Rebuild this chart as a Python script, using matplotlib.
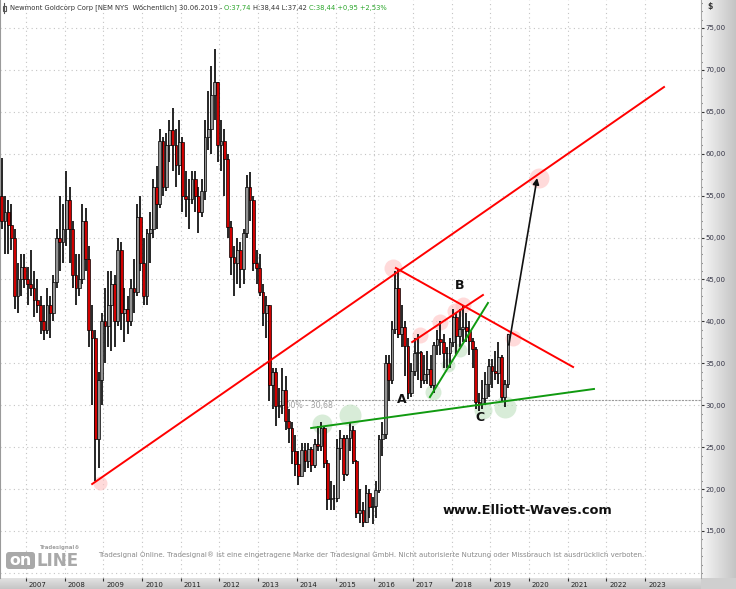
import matplotlib
matplotlib.use("Agg")
import matplotlib.pyplot as plt
import numpy as np
from matplotlib.colors import LinearSegmentedColormap
from matplotlib.patches import FancyBboxPatch
from matplotlib.ticker import MultipleLocator
from matplotlib.transforms import ScaledTranslation

W, H, DPI = 736, 589, 100

# monthly bars, first bar = May 2006
START_YEAR, START_MONTH = 2006, 5
FIRST_OPEN = 55.0
HIGHS = [
    59.5, 55.0, 54.5, 54.0, 51.0, 47.0, 48.0, 48.0,
    46.5, 48.5, 46.0, 45.0, 43.0, 42.0, 44.0, 43.0, 45.5, 51.0, 55.0, 54.0,
    58.0, 56.0, 52.0, 48.0, 48.0, 54.0, 53.5, 49.0, 42.0, 39.0, 34.0, 41.0,
    44.0, 46.0, 46.0, 45.5, 50.0, 49.5, 44.0, 43.0, 45.0, 47.5, 54.0, 55.0,
    50.0, 51.0, 53.0, 57.0, 58.5, 63.0, 62.0, 62.5, 64.0, 65.5, 63.0, 64.0,
    62.0, 58.0, 57.0, 58.0, 58.0, 56.0, 57.0, 64.0, 67.5, 70.5, 72.5, 68.5,
    64.0, 63.0, 60.0, 52.0, 49.0, 50.0, 49.5, 51.0, 57.5, 57.8, 55.0, 48.5,
    48.0, 44.5, 43.0, 42.0, 34.5, 34.5, 32.0, 34.5, 33.5, 29.5, 28.0, 26.5,
    24.5, 25.5, 25.5, 25.5, 25.0, 26.0, 27.5, 28.0, 27.5, 23.5, 21.0, 20.5,
    26.0, 27.0, 26.5, 26.5, 28.0, 27.5, 23.5, 20.0, 18.5, 20.5, 20.0, 19.0,
    21.0, 26.5, 28.0, 36.0, 36.0, 40.0, 46.0, 46.2, 42.0, 40.0, 38.0, 35.0,
    38.0, 38.5, 36.5, 36.0, 36.5, 36.0, 37.5, 39.0, 40.0, 38.5, 37.0, 38.0,
    41.5, 41.0, 41.5, 42.0, 41.0, 40.0, 38.0, 37.0, 31.5, 33.0, 34.0, 35.5,
    35.5, 36.5, 37.5, 36.0, 33.0, 38.5,
]
LOWS = [
    51.0, 48.0, 48.0, 48.5, 41.5, 41.0, 43.0, 44.0,
    42.0, 43.0, 40.5, 41.0, 38.5, 37.8, 38.5, 38.0, 40.0, 44.0, 46.0, 47.0,
    49.0, 47.0, 44.0, 42.0, 43.0, 44.5, 46.0, 37.0, 30.0, 21.0, 22.5, 30.0,
    35.0, 37.0, 36.5, 37.0, 39.5, 39.0, 37.5, 38.5, 39.5, 41.0, 43.0, 46.0,
    42.0, 42.0, 47.0, 50.0, 51.0, 53.5, 55.0, 55.5, 59.0, 58.0, 56.0, 57.5,
    53.0, 52.5, 51.0, 54.0, 53.0, 50.5, 52.5, 54.5, 60.5, 60.0, 64.0, 59.0,
    58.0, 55.0, 50.0, 45.5, 43.0, 44.5, 44.0, 44.5, 50.0, 52.0, 46.0, 44.5,
    43.0, 39.5, 38.0, 30.5, 29.5, 27.5, 28.5, 29.0, 27.0, 25.5, 23.0, 21.5,
    20.5, 21.5, 22.0, 22.5, 22.0, 22.5, 24.5, 24.5, 22.5, 17.5, 17.5, 17.5,
    18.5, 23.5, 21.0, 21.5, 24.5, 23.0, 16.5, 16.0, 15.5, 16.0, 16.5, 15.8,
    16.5, 19.5, 24.0, 26.0, 30.5, 32.5, 38.5, 38.0, 37.0, 33.5, 30.8, 31.0,
    33.5, 33.0, 32.0, 32.5, 32.5, 32.0, 31.5, 36.0, 36.0, 34.5, 34.5, 34.5,
    37.0, 36.0, 37.0, 37.5, 37.5, 36.0, 34.5, 29.5, 29.3, 29.5, 30.0, 31.0,
    32.0, 33.0, 32.5, 30.5, 29.8, 32.0,
]
CLOSES = [
    52.0, 53.0, 51.5, 50.0, 43.0, 45.0, 46.5, 45.0,
    44.5, 44.0, 42.5, 42.0, 40.0, 39.0, 42.0, 41.0, 44.7, 50.0, 49.5, 51.0,
    54.5, 51.0, 45.5, 44.0, 45.0, 52.0, 47.5, 39.0, 38.0, 26.0, 33.0, 40.0,
    39.5, 42.0, 44.5, 40.0, 48.5, 41.0, 41.5, 40.0, 44.0, 43.5, 52.5, 47.0,
    43.0, 50.5, 51.0, 56.0, 54.0, 61.5, 56.0, 61.0, 62.8, 61.0, 58.6, 61.4,
    55.0, 54.6, 54.6, 57.0, 55.0, 53.0, 55.6, 62.0, 63.0, 67.0, 68.5, 61.0,
    61.5, 59.4, 51.3, 47.7, 47.0, 48.5, 46.3, 50.6, 56.0, 54.5, 47.0, 46.4,
    43.5, 41.0, 41.9, 32.4, 34.0, 29.9, 30.0, 31.8, 28.1, 27.3, 24.5, 23.0,
    21.6, 24.7, 23.4, 24.8, 22.9, 25.4, 25.1, 27.3, 23.1, 18.8, 18.9, 18.9,
    24.9, 26.1, 21.8, 26.1, 27.1, 23.4, 17.2, 17.5, 16.1, 19.5, 17.9, 18.0,
    19.9, 26.0, 26.6, 35.0, 33.0, 39.1, 44.0, 38.5, 39.3, 37.1, 31.4, 34.1,
    36.2, 36.3, 33.0, 33.7, 34.3, 32.4, 37.2, 37.9, 37.5, 36.2, 36.2, 37.5,
    40.5, 38.3, 39.1, 39.3, 38.8, 37.7, 36.7, 30.4, 30.2, 30.9, 32.5, 34.7,
    34.1, 33.9, 35.8, 31.0, 32.5, 38.44,
]

YEARS = list(range(2007, 2024))
PRICE_TICKS = list(range(15, 80, 5))

# drawn analysis, (decimal year, price)
RED_LINES = [((2008.71, 20.60), (2023.49, 67.96)),
             ((2016.56, 46.37), (2021.14, 34.56)),
             ((2016.98, 37.54), (2018.81, 43.15))]
GREEN_LINES = [((2014.37, 27.28), (2021.68, 31.94)),
               ((2017.44, 30.98), (2018.94, 42.20))]
ARROW = ((2019.48, 37.19), (2020.21, 57.10))
PINK_SPOTS = [(2008.91, 20.72), (2016.49, 46.37), (2017.18, 38.38), (2017.70, 39.93),
              (2018.09, 41.24), (2018.30, 41.96), (2019.59, 38.02), (2020.26, 57.11)]
PINK_RADII = [7, 9, 8, 8, 8, 8, 8, 10]
GREEN_SPOTS = [(2014.65, 27.76), (2015.37, 28.84), (2017.52, 31.58), (2017.91, 34.80),
               (2018.22, 36.59), (2018.81, 29.43), (2019.38, 29.79)]
GREEN_RADII = [10, 11, 8, 7, 7, 9, 11]
WAVE_LABELS = [("A", 2016.72, 30.74), ("B", 2018.22, 44.34), ("C", 2018.73, 28.48)]
RETRACE_LEVEL = 30.68
RETRACE_START = 2013.77

HEADER_PARTS = [
    ("Newmont Goldcorp Corp [NEM NYS  W\u00f6chentlich] 30.06.2019 - ", "#333333"),
    ("O:37,74 ", "#2aa52a"),
    ("H:38,44 L:37,42 ", "#333333"),
    ("C:38,44 +0,95 +2,53%", "#2aa52a"),
]
WATERMARK = ("Tradesignal Online. Tradesignal\u00ae ist eine eingetragene Marke der Tradesignal GmbH. "
             "Nicht autorisierte Nutzung oder Missbrauch ist ausdr\u00fccklich verboten.")


def px_box(x0, y0, x1, y1):
    return [x0 / W, 1 - y1 / H, (x1 - x0) / W, (y1 - y0) / H]


fig = plt.figure(figsize=(W / DPI, H / DPI), dpi=DPI)
fig.patch.set_facecolor("#cfcfcf")
renderer = fig.canvas.get_renderer()


def fit(txt, width_px):
    w = txt.get_window_extent(renderer).width
    txt.set_fontsize(txt.get_fontsize() * width_px / w)
    return txt.get_fontsize()


# background strips
bg = fig.add_axes([0, 0, 1, 1], zorder=0)
right_cmap = LinearSegmentedColormap.from_list("r", ["#f7f7f7", "#c4c4c4"])
bottom_cmap = LinearSegmentedColormap.from_list("b", ["#e2e2e2", "#c6c6c6"])
bg.imshow(np.linspace(0, 1, 64)[None, :], extent=(701, W, 578, 0), cmap=right_cmap, aspect="auto")
bg.imshow(np.linspace(0, 1, 16)[:, None], extent=(0, 701, H, 578), cmap=bottom_cmap, aspect="auto")
bg.set_xlim(0, W)
bg.set_ylim(H, 0)
bg.axis("off")

# main chart
ax = fig.add_axes(px_box(0, 0, 701, 578), zorder=1)
ax.set_facecolor("white")
ax.set_xlim(2006.328, 2024.446)
ax.set_ylim(9.39, 78.34)

n = len(CLOSES)
t = np.array([START_YEAR + (START_MONTH - 1 + i + 0.5) / 12 for i in range(n)])
opens = np.array([FIRST_OPEN] + CLOSES[:-1])
closes = np.array(CLOSES)
up = closes >= opens
body_colors = np.where(up, "#939393", "#d00000")

ax.vlines(t, LOWS, HIGHS, color="#151515", lw=1.3, zorder=3)
ax.bar(t, np.abs(closes - opens), bottom=np.minimum(opens, closes), width=0.072,
       color=body_colors, edgecolor="black", lw=0.5, zorder=3.5)

# grid
dots = (0, (1, 3))
for y in YEARS:
    ax.axvline(y, color="#c4c4c4", lw=0.8, ls=dots, zorder=0.5)
for p in [10] + PRICE_TICKS:
    ax.axhline(p, color="#c4c4c4", lw=0.8, ls=dots, zorder=0.5)

# retracement level
ax.hlines(RETRACE_LEVEL, RETRACE_START, 2024.446, color="#9a9a9a", lw=0.8, ls=(0, (2, 1)), zorder=1)
rt = ax.text(2013.51, 30.0, "0,00% - 30,68", color="#a0a0a0", va="center", ha="left",
             fontsize=6, zorder=1.2)
fit(rt, 55)

# highlight spots
for (x, y), r in zip(PINK_SPOTS, PINK_RADII):
    ax.scatter(x, y, s=(2 * r * 0.72) ** 2, color="#ffc2c2", alpha=0.6, lw=0, zorder=2)
for (x, y), r in zip(GREEN_SPOTS, GREEN_RADII):
    ax.scatter(x, y, s=(2 * r * 0.72) ** 2, color="#bfe0bf", alpha=0.6, lw=0, zorder=2)

for (x0, y0), (x1, y1) in RED_LINES:
    ax.plot([x0, x1], [y0, y1], color="#ff0000", lw=1.4, zorder=5)
for (x0, y0), (x1, y1) in GREEN_LINES:
    ax.plot([x0, x1], [y0, y1], color="#109a10", lw=1.4, zorder=5)
ax.annotate("", xy=ARROW[1], xytext=ARROW[0],
            arrowprops=dict(arrowstyle="-|>", color="#111111", lw=1.2, mutation_scale=9,
                            shrinkA=0, shrinkB=0), zorder=6)
for s, x, y in WAVE_LABELS:
    ax.text(x, y, s, fontsize=9, fontweight="bold", color="#111111", ha="center", va="center", zorder=6)

# axes decoration
for side in ["top", "bottom"]:
    ax.spines[side].set_visible(False)
ax.spines["left"].set_color("#9a9a9a")
ax.spines["right"].set_color("#a8a8a8")

ax.yaxis.tick_right()
ax.set_yticks(PRICE_TICKS)
ax.set_yticklabels([f"{p},00" for p in PRICE_TICKS])
ax.yaxis.set_minor_locator(MultipleLocator(1))
ax.tick_params(axis="y", which="major", direction="out", length=2.2, width=0.8,
               color="#333333", labelsize=5, labelcolor="#333344", pad=1)
ax.tick_params(axis="y", which="minor", direction="out", length=1.0, width=0.8, color="#333333")

ax.set_xticks(YEARS)
ax.set_xticklabels([str(y) for y in YEARS])
ax.tick_params(axis="x", direction="out", length=2.2, width=0.8, color="#333333",
               labelsize=5, labelcolor="#222222", pad=0.6)
shift = ScaledTranslation(3 / DPI, 0, fig.dpi_scale_trans)
for lab in ax.get_xticklabels():
    lab.set_horizontalalignment("left")
    lab.set_transform(lab.get_transform() + shift)

# overlay texts in pixel coordinates
ov = fig.add_axes([0, 0, 1, 1], zorder=5)
ov.set_xlim(0, W)
ov.set_ylim(H, 0)
ov.axis("off")
ov.patch.set_alpha(0)

ov.plot([4, 4], [3, 13], color="#555555", lw=0.8)
ov.add_patch(FancyBboxPatch((2.5, 5.5), 3, 5, boxstyle="square,pad=0", fc="white", ec="#555555", lw=0.8))

# header: one run of coloured pieces, scaled to span x 10..387
full = ov.text(10, 8, "".join(s for s, _ in HEADER_PARTS), fontsize=6, va="center", ha="left")
hs = fit(full, 377)
full.remove()
x = 10.0
for s, c in HEADER_PARTS:
    piece = ov.text(x, 8, s, color=c, va="center", ha="left", fontsize=hs)
    x += piece.get_window_extent(renderer).width

ov.text(707, 7, "$", color="#333333", va="center", ha="left", fontsize=5.5, fontweight="bold")

wm = ov.text(98, 555, WATERMARK, color="#8a8a8a", va="center", ha="left", fontsize=6)
fit(wm, 550)
ew = ov.text(443, 511, "www.Elliott-Waves.com", color="#111111", va="center", ha="left",
             fontsize=10, fontweight="bold")
fit(ew, 170)

# Tradesignal online logo
ov.add_patch(FancyBboxPatch((6, 552), 29, 17, boxstyle="round,pad=0,rounding_size=3",
                            fc="#a9a9a9", ec="none"))
on = ov.text(20.5, 560.5, "on", color="white", va="center", ha="center", fontsize=9, fontweight="bold")
fit(on, 22)
ln = ov.text(36, 560.5, "LINE", color="#a9a9a9", va="center", ha="left", fontsize=9, fontweight="bold")
fit(ln, 42)
ts = ov.text(40, 548, "Tradesignal\u00ae", color="#a0a0a0", va="center", ha="left", fontsize=4,
             fontweight="bold")
fit(ts, 40)

fig.savefig("out.png", dpi=DPI)
